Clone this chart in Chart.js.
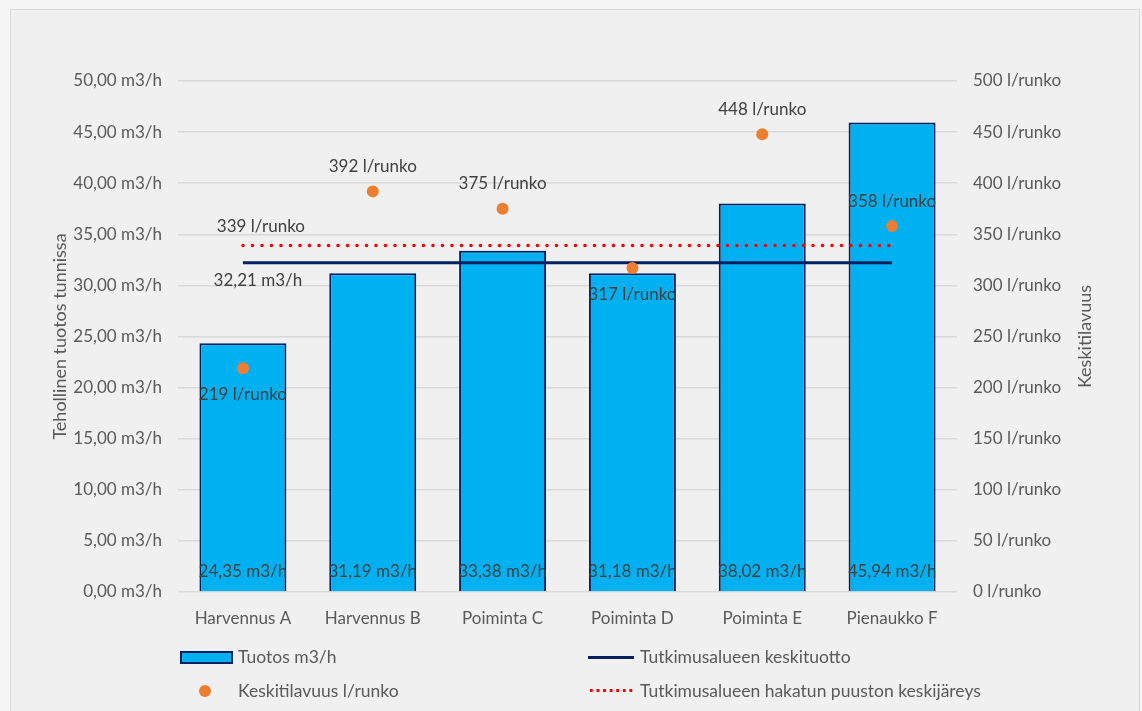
<!DOCTYPE html>
<html>
<head>
<meta charset="utf-8">
<script src="https://cdn.jsdelivr.net/npm/chart.js@4.4.1/dist/chart.umd.min.js"></script>
<style>
  html, body { margin: 0; padding: 0; background: #f5f5f5; }
  #wrap { position: relative; width: 1142px; height: 711px; overflow: hidden; }
  #frame { position: absolute; left: 10px; top: 9px; width: 1130px; height: 720px;
           background: #f0f0f0; border: 1px solid #d9d9d9; box-sizing: border-box; }
  #chart { position: absolute; left: 0; top: 0; }
  .leg { position: absolute; font: 17.5px Lato, sans-serif; color: #595959; white-space: nowrap; line-height: 20px; }
  .sw { position: absolute; }
</style>
</head>
<body>
<div id="wrap">
  <div id="frame"></div>
  <canvas id="chart" width="1142" height="711"></canvas>

  <div class="sw" style="left:180px;top:651px;width:49px;height:9px;background:#00b0f0;border:2px solid #002060;"></div>
  <div class="leg" style="left:238px;top:647px;">Tuotos m3/h</div>
  <div class="sw" style="left:199px;top:685px;width:12px;height:12px;border-radius:50%;background:#ed7d31;"></div>
  <div class="leg" style="left:238px;top:681px;">Keskitilavuus l/runko</div>
  <div class="sw" style="left:588px;top:656px;width:46px;height:3px;background:#002060;"></div>
  <div class="leg" style="left:640px;top:647px;">Tutkimusalueen keskituotto</div>
  <div class="sw" style="left:588px;top:689px;width:46px;height:3px;background:radial-gradient(circle, #ff0000 1.5px, transparent 1.6px) 0 0 / 6.6px 3px repeat-x;"></div>
  <div class="leg" style="left:640px;top:681px;">Tutkimusalueen hakatun puuston keskijäreys</div>
</div>

<script>
const categories = ['Harvennus A', 'Harvennus B', 'Poiminta C', 'Poiminta D', 'Poiminta E', 'Pienaukko F'];
const tuotos = [24.35, 31.19, 33.38, 31.18, 38.02, 45.94];
const keskitilavuus = [219, 392, 375, 317, 448, 358];
const keskituotto = 32.21;
const keskijareys = 339;
const leftTicks = { min: 0, max: 50, step: 5 };
const rightTicks = { min: 0, max: 500, step: 50 };

// where the dot labels sit relative to the dot
const dotLabelSide = ['below', 'above', 'above', 'below', 'above', 'above'];

const fmt2 = v => v.toFixed(2).replace('.', ',');
const FONT = 'Lato, sans-serif';
const TEXT = '#404040';

const labelPlugin = {
  id: 'labels',
  afterDatasetsDraw(chart) {
    const ctx = chart.ctx;
    ctx.save();
    ctx.font = '17px ' + FONT;
    ctx.fillStyle = TEXT;
    ctx.textAlign = 'center';
    ctx.textBaseline = 'middle';

    const bars = chart.getDatasetMeta(0).data;
    const clipText = (text, x, y) => {
      const bar = bars.find(b => x > b.x - b.width / 2 && x < b.x + b.width / 2 && y > b.y && y < b.base);
      ctx.save();
      if (bar) {
        ctx.beginPath();
        ctx.rect(bar.x - bar.width / 2, bar.y, bar.width, bar.base - bar.y);
        ctx.clip();
      }
      ctx.fillText(text, x, y);
      ctx.restore();
    };

    bars.forEach((b, i) => clipText(fmt2(tuotos[i]) + ' m3/h', b.x, b.base - 20));

    chart.getDatasetMeta(1).data.forEach((p, i) => {
      const dy = dotLabelSide[i] === 'above' ? -25 : 26;
      clipText(keskitilavuus[i] + ' l/runko', p.x, p.y + dy);
    });

    const avg = chart.getDatasetMeta(2).data[0];
    ctx.fillText(fmt2(keskituotto) + ' m3/h', avg.x + 15, avg.y + 18);
    const red = chart.getDatasetMeta(3).data[0];
    ctx.fillText(keskijareys + ' l/runko', red.x + 18, red.y - 19);

    // right axis title, reading upwards like the left one
    const r = chart.scales.y2;
    ctx.font = '18px ' + FONT;
    ctx.fillStyle = '#595959';
    ctx.translate(1085, (r.top + r.bottom) / 2);
    ctx.rotate(-Math.PI / 2);
    ctx.fillText('Keskitilavuus', 0, 0);
    ctx.restore();
  }
};

new Chart(document.getElementById('chart'), {
  data: {
    labels: categories,
    datasets: [
      {
        type: 'bar',
        label: 'Tuotos m3/h',
        data: tuotos,
        backgroundColor: '#00b0f0',
        borderColor: '#002060',
        borderWidth: 2,
        barPercentage: 0.67,
        categoryPercentage: 1,
        yAxisID: 'y',
        order: 5
      },
      {
        type: 'line',
        label: 'Keskitilavuus l/runko',
        data: keskitilavuus,
        showLine: false,
        pointRadius: 6,
        pointBackgroundColor: '#ed7d31',
        pointBorderWidth: 0,
        yAxisID: 'y2',
        order: 1
      },
      {
        type: 'line',
        label: 'Tutkimusalueen keskituotto',
        data: categories.map(() => keskituotto),
        borderColor: '#002060',
        borderWidth: 3,
        pointRadius: 0,
        yAxisID: 'y',
        order: 3
      },
      {
        type: 'line',
        label: 'Tutkimusalueen hakatun puuston keskijäreys',
        data: categories.map(() => keskijareys),
        borderColor: '#ff0000',
        borderWidth: 3.5,
        borderDash: [0.1, 9.4],
        borderCapStyle: 'round',
        pointRadius: 0,
        yAxisID: 'y2',
        order: 2
      }
    ]
  },
  options: {
    responsive: false,
    animation: false,
    layout: { padding: { left: 40, right: 0, top: 81, bottom: 0 } },
    plugins: {
      legend: { display: false },
      tooltip: { enabled: false }
    },
    scales: {
      x: {
        grid: { display: false },
        border: { display: false },
        ticks: { color: '#595959', font: { family: FONT, size: 17 }, padding: 8 },
        afterFit: s => { s.height = 711 - 592; }
      },
      y: {
        position: 'left',
        min: leftTicks.min,
        max: leftTicks.max,
        ticks: {
          stepSize: leftTicks.step,
          color: '#595959',
          font: { family: FONT, size: 17 },
          padding: 16,
          callback: v => fmt2(v) + ' m3/h'
        },
        grid: { color: '#d9d9d9', lineWidth: 1.5, drawTicks: false },
        border: { display: false },
        title: {
          display: true,
          text: 'Tehollinen tuotos tunnissa',
          color: '#595959',
          font: { family: FONT, size: 18 },
          padding: { top: 9, bottom: 0 }
        },
        afterFit: s => { s.width = 178 - 40; }
      },
      y2: {
        position: 'right',
        min: rightTicks.min,
        max: rightTicks.max,
        ticks: {
          stepSize: rightTicks.step,
          color: '#595959',
          font: { family: FONT, size: 17 },
          padding: 16,
          callback: v => v + ' l/runko'
        },
        grid: { display: false, drawTicks: false },
        border: { display: false },
        afterFit: s => { s.width = 1142 - 957; }
      }
    }
  },
  plugins: [labelPlugin]
});
</script>
</body>
</html>
